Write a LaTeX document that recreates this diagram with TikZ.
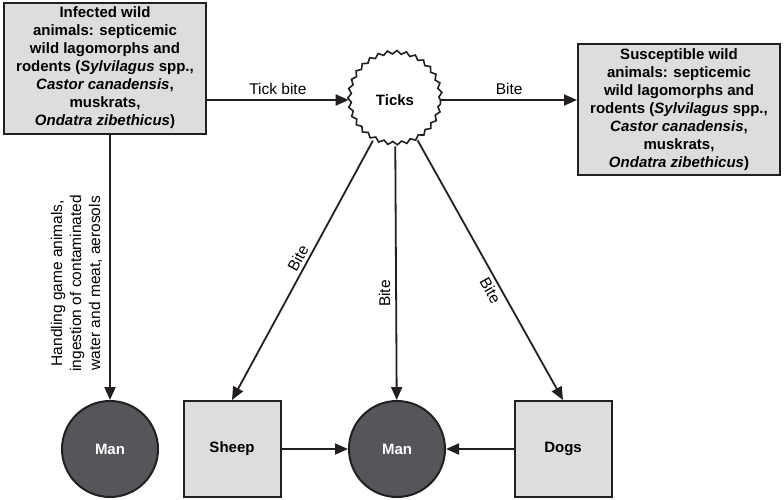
\documentclass[tikz,border=0pt]{standalone}
\usepackage{fontspec}
\setmainfont{Liberation Sans}
\usepackage{tikz}
\usetikzlibrary{positioning}
\usetikzlibrary{arrows.meta}
\usetikzlibrary{decorations.pathmorphing}
\definecolor{boxgray}{RGB}{220,221,222}
\definecolor{mangray}{RGB}{84,86,90}
\definecolor{edgeblack}{RGB}{35,31,32}

\begin{document}
\begin{tikzpicture}[x=1pt, y=-1pt,
    every node/.style={font=\fontsize{15.5}{19}\selectfont},
    animalbox/.style={draw=edgeblack, line width=2pt, fill=boxgray, rectangle, align=center, inner sep=1pt, font=\fontsize{15}{18}\selectfont\bfseries},
    manblob/.style={draw=edgeblack, line width=2pt, fill=mangray, circle, minimum size=96pt, text=white, font=\fontsize{15}{18}\selectfont\bfseries},
    hostbox/.style={animalbox, minimum width=97pt, minimum height=96pt},
    tickblob/.style={draw=edgeblack, line width=1.6pt, circle, fill=white, minimum size=91pt, font=\fontsize{15}{18}\selectfont\bfseries,
        decorate, decoration={snake, segment length=9.2pt, amplitude=1.7pt}},
    route/.style={draw=edgeblack, line width=1.8pt, -{Triangle[length=13pt, width=11pt]}}]

    \useasboundingbox (0,0) rectangle (784,499);

    % Nodes
    \node at (105,68) (infected) [animalbox, minimum width=202pt, minimum height=131pt]
        {Infected wild\\ animals: septicemic\\ wild lagomorphs and\\ rodents (\textit{Sylvilagus} spp.,\\ \textit{Castor canadensis},\\ muskrats,\\ \textit{Ondatra zibethicus})};
    \node at (395,100) (ticks) [tickblob] {Ticks};
    \node at (679,109.5) (susceptible) [animalbox, minimum width=202pt, minimum height=131pt]
        {Susceptible wild\\ animals: septicemic\\ wild lagomorphs and\\ rodents (\textit{Sylvilagus} spp.,\\ \textit{Castor canadensis},\\ muskrats,\\ \textit{Ondatra zibethicus})};
    \node at (110,449) (manleft) [manblob] {Man};
    \node at (232,449) (sheep) [hostbox] {Sheep};
    \node at (397,449) (manmid) [manblob] {Man};
    \node at (563,449) (dogs) [hostbox] {Dogs};

    % Arrows
    \draw[route] (infected.east |- ticks) -- (ticks)
        node[midway, above=1pt] {Tick bite};
    \draw[route] (ticks) -- (susceptible.west |- ticks)
        node[midway, above=1pt] {Bite};
    \draw[route] (infected.south -| manleft) -- (manleft)
        node[pos=0.56, rotate=90, anchor=south, align=center, inner sep=7pt]
        {Handling game animals,\\ ingestion of contaminated\\ water and meat, aerosols};
    \draw[route] (ticks) -- (sheep.north)
        node[pos=0.47, sloped, above] {Bite};
    \draw[route] (ticks) -- (manmid)
        node[pos=0.58, rotate=90, anchor=south, inner sep=5pt] {Bite};
    \draw[route] (ticks) -- (dogs.north)
        node[pos=0.56, sloped, below] {Bite};
    \draw[route] (sheep) -- (manmid);
    \draw[route] (dogs) -- (manmid);

\end{tikzpicture}
\end{document}
